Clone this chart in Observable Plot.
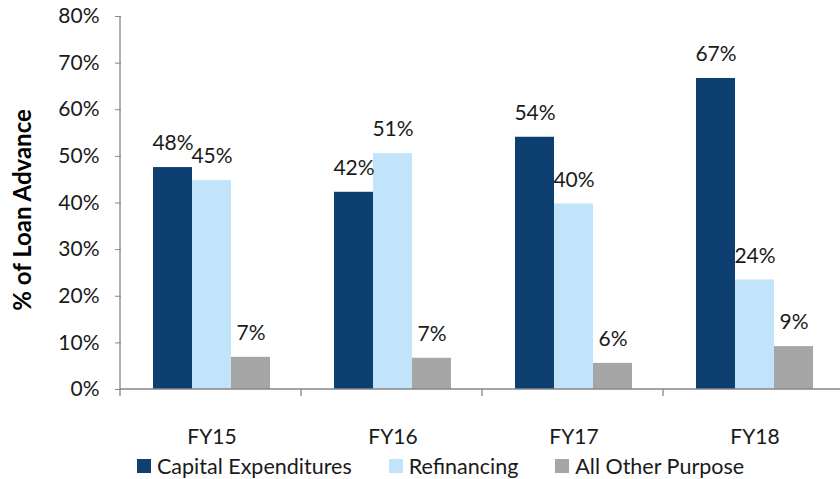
<!DOCTYPE html>
<html><head><meta charset="utf-8">
<script src="https://cdn.jsdelivr.net/npm/d3@7"></script>
<script src="https://cdn.jsdelivr.net/npm/@observablehq/plot@0.6"></script>
<style>
body{margin:0;background:#fff;font-family:Lato, "Open Sans", sans-serif;}
#legend{display:flex;align-items:center;padding-left:137px;height:27px;font-size:21.5px;color:#1a1a1a;}
.item{display:flex;align-items:center;margin-right:37px;}
.sw{width:14px;height:14px;margin-right:6px;display:inline-block;}
</style></head><body><div id="chart"></div><div id="legend"></div>
<script>
const categories = ["FY15", "FY16", "FY17", "FY18"];
const series = ["Capital Expenditures", "Refinancing", "All Other Purpose"];
const capex = [47.6, 42.3, 54.1, 66.7];
const refinancing = [44.8, 50.6, 39.8, 23.5];
const other = [6.9, 6.7, 5.6, 9.2];
const colors = ["#0d3f71", "#c2e4fb", "#a6a6a6"];
const yTicks = [0, 10, 20, 30, 40, 50, 60, 70, 80];
const yLabel = "% of Loan Advance";

const seriesValues = [capex, refinancing, other];
const data = categories.flatMap((c, i) => series.map((s, j) => ({category: c, series: s, value: seriesValues[j][i]})));

const plot = Plot.plot({
  width: 840, height: 452,
  marginTop: 16, marginBottom: 63, marginLeft: 120, marginRight: -5,
  style: {fontFamily: "Lato, 'Open Sans', sans-serif", fontSize: "21px", color: "#1a1a1a", background: "#fff", overflow: "visible"},
  fx: {domain: categories, padding: 0, axis: null},
  x: {domain: series, paddingInner: 0, paddingOuter: 0.766, axis: null},
  y: {domain: [0, 80], axis: null},
  color: {domain: series, range: colors},
  marks: [
    Plot.barY(data, {fx: "category", x: "series", y: "value", fill: "series"}),
    Plot.text(data, {fx: "category", x: "series", y: "value", text: d => Math.round(d.value) + "%", dy: -24, fontSize: 21, fill: "#1a1a1a"}),
    Plot.axisY({ticks: yTicks, tickFormat: d => d + "%", tickSize: 6, tickPadding: 16, stroke: "#868686", fill: "#1a1a1a", fontSize: 21, label: null}),
    Plot.axisFx({anchor: "bottom", tickSize: 0, tickPadding: 40, label: null, fontSize: 21, fill: "#1a1a1a"}),
    Plot.text([yLabel], {text: d => d, frameAnchor: "left", rotate: -90, dx: -98, dy: 7, textAnchor: "middle", lineAnchor: "middle", fontWeight: "bold", fontSize: 24, fill: "#000", facetAnchor: "left"})
  ]
});
document.getElementById("chart").appendChild(plot);

// axis lines and boundary ticks using the plot's scales
const fx = plot.scale("fx"), y = plot.scale("y");
const x0 = fx.range[0], step = fx.step;
const y0 = y.apply(0), yTop = y.apply(80);
const svg = d3.select(plot);
const g = svg.append("g").attr("stroke", "#868686").attr("stroke-width", 1.3);
g.append("line").attr("x1", x0).attr("x2", x0).attr("y1", yTop).attr("y2", y0 + 7);
g.append("line").attr("x1", x0).attr("x2", x0 + step * categories.length).attr("y1", y0).attr("y2", y0);
categories.forEach((c, i) => {
  const bx = x0 + step * (i + 1);
  g.append("line").attr("x1", bx).attr("x2", bx).attr("y1", y0).attr("y2", y0 + 7);
});

const legend = d3.select("#legend");
series.forEach((s, i) => {
  const it = legend.append("div").attr("class", "item");
  it.append("span").attr("class", "sw").style("background", colors[i]);
  it.append("span").text(s);
});
</script></body></html>
